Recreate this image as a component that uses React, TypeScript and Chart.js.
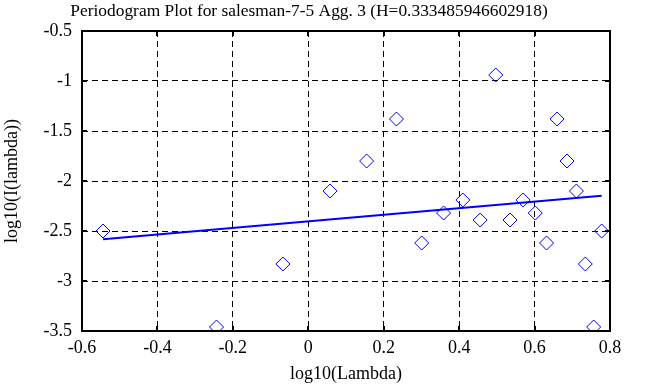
import React, { useEffect, useRef } from 'react';
import { Chart, registerables } from 'chart.js';

Chart.register(...registerables);

// log10 of the Fourier frequencies (x) and log10 of the periodogram (y)
const logLambda = [-0.5443, -0.2433, -0.0672, 0.0578, 0.1547, 0.2338, 0.3008, 0.3588, 0.4099, 0.4557, 0.4971, 0.5349, 0.5696, 0.6018, 0.6318, 0.6598, 0.6861, 0.711, 0.7345, 0.7567, 0.7779];
const logI = [-2.5, -3.46, -2.83, -2.1, -1.8, -1.38, -2.62, -2.32, -2.19, -2.39, -0.94, -2.39, -2.19, -2.32, -2.62, -1.38, -1.8, -2.1, -2.83, -3.46, -2.5];

// fitted regression line end points
const fitX = [-0.5443, 0.7779];
const fitY = [-2.583, -2.147];

const titleText = 'Periodogram Plot for salesman-7-5 Agg. 3 (H=0.333485946602918)';
const xTitle = 'log10(Lambda)';
const yTitle = 'log10(I(lambda))';

const FONT = "'Liberation Serif', 'Times New Roman', serif";

const fmt = (v: any) => String(Math.round(Number(v) * 10) / 10);

export default function App() {
  const ref = useRef<HTMLCanvasElement>(null);

  useEffect(() => {
    if (!ref.current) return;
    const boxPlugin = {
      id: 'boxPlugin',
      afterDraw(chart: any) {
        const { ctx, chartArea: a, scales } = chart;
        ctx.save();
        ctx.strokeStyle = '#000';
        ctx.lineWidth = 2;
        ctx.setLineDash([]);
        ctx.strokeRect(a.left, a.top, a.right - a.left, a.bottom - a.top);
        const L = 5;
        ctx.beginPath();
        scales.x.ticks.forEach((t: any) => {
          const px = Math.round(scales.x.getPixelForValue(t.value));
          ctx.moveTo(px, a.top);
          ctx.lineTo(px, a.top + L);
          ctx.moveTo(px, a.bottom);
          ctx.lineTo(px, a.bottom - L);
        });
        scales.y.ticks.forEach((t: any) => {
          const py = Math.round(scales.y.getPixelForValue(t.value));
          ctx.moveTo(a.left, py);
          ctx.lineTo(a.left + L, py);
          ctx.moveTo(a.right, py);
          ctx.lineTo(a.right - L, py);
        });
        ctx.stroke();
        ctx.fillStyle = '#000';
        ctx.font = `17.4px ${FONT}`;
        ctx.textAlign = 'center';
        ctx.textBaseline = 'alphabetic';
        ctx.fillText(titleText, 309, 16);
        ctx.restore();
      },
    };

    const chart = new Chart(ref.current, {
      type: 'scatter',
      data: {
        datasets: [
          {
            type: 'scatter',
            data: logLambda.map((x, i) => ({ x, y: logI[i] })),
            pointStyle: 'rectRot',
            radius: 7,
            pointRadius: 7,
            borderColor: '#0000ff',
            backgroundColor: 'rgba(0,0,0,0)',
            borderWidth: 1,
          },
          {
            type: 'line',
            data: fitX.map((x, i) => ({ x, y: fitY[i] })),
            borderColor: '#0000ff',
            borderWidth: 2,
            pointRadius: 0,
            fill: false,
          } as any,
        ],
      },
      options: {
        animation: false,
        responsive: false,
        maintainAspectRatio: false,
        layout: { padding: { left: 0, right: 53, top: 31, bottom: 0 } },
        plugins: { legend: { display: false }, tooltip: { enabled: false } },
        scales: {
          x: {
            type: 'linear',
            min: -0.6,
            max: 0.8,
            ticks: { stepSize: 0.2, color: '#000', font: { family: FONT, size: 18 }, padding: 6, callback: fmt },
            grid: { color: '#000', lineWidth: 1, drawTicks: false },
            border: { display: false, dash: [6, 4] },
            title: { display: true, text: xTitle, color: '#000', font: { family: FONT, size: 18 }, padding: { top: 0, bottom: 2 } },
            afterFit: (s: any) => { s.height = 56; },
          },
          y: {
            type: 'linear',
            min: -3.5,
            max: -0.5,
            ticks: { stepSize: 0.5, color: '#000', font: { family: FONT, size: 18 }, padding: 10, callback: fmt },
            grid: { color: '#000', lineWidth: 1, drawTicks: false },
            border: { display: false, dash: [6, 4] },
            title: { display: true, text: yTitle, color: '#000', font: { family: FONT, size: 18 }, padding: { top: 1, bottom: 0 } },
            afterFit: (s: any) => { s.width = 82; },
          },
        },
      },
      plugins: [boxPlugin],
    } as any);
    return () => chart.destroy();
  }, []);

  return (
    <div style={{ position: 'fixed', left: 0, top: 0, width: 663, height: 387, background: '#fff' }}>
      <canvas ref={ref} width={663} height={387} style={{ width: 663, height: 387 }} />
    </div>
  );
}
